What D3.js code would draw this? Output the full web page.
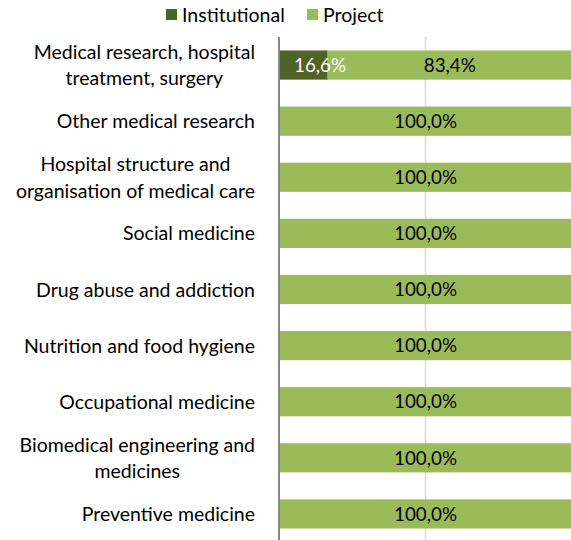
<!DOCTYPE html>
<html>
<head>
<meta charset="utf-8">
<script src="https://cdn.jsdelivr.net/npm/d3@7"></script>
<style>
  body { margin: 0; background: #fff; }
  svg text { font-family: Lato, "Open Sans", sans-serif; }
</style>
</head>
<body>
<div id="chart"></div>
<script>
// categories, top to bottom (line breaks as wrapped in the original)
const categories = [
  ["Medical research, hospital", "treatment, surgery"],
  ["Other medical research"],
  ["Hospital structure and", "organisation of medical care"],
  ["Social medicine"],
  ["Drug abuse and addiction"],
  ["Nutrition and food hygiene"],
  ["Occupational medicine"],
  ["Biomedical engineering and", "medicines"],
  ["Preventive medicine"]
];
const institutional = [16.6, 0, 0, 0, 0, 0, 0, 0, 0];
const project = [83.4, 100, 100, 100, 100, 100, 100, 100, 100];
const seriesNames = ["Institutional", "Project"];
const colors = ["#4f6228", "#9bbb59"];
const gridTicks = [0, 50, 100];

const width = 571, height = 540;
const margin = { top: 37, left: 279 };
const plotW = 293, plotH = 505;

const svg = d3.select('#chart').append('svg')
  .attr('width', width)
  .attr('height', height);

const x = d3.scaleLinear().domain([0, 100]).range([margin.left, margin.left + plotW]);
const y = d3.scaleBand()
  .domain(d3.range(categories.length))
  .range([margin.top, margin.top + plotH])
  .paddingInner(0.48)
  .paddingOuter(0.24);

// gridlines
svg.append('g')
  .selectAll('line')
  .data(gridTicks.slice(1))
  .join('line')
  .attr('x1', d => x(d)).attr('x2', d => x(d))
  .attr('y1', margin.top).attr('y2', margin.top + plotH)
  .attr('stroke', '#d9d9d9')
  .attr('stroke-width', 1.5);

// stacked bars
const rows = categories.map((c, i) => ({ i, inst: institutional[i], proj: project[i] }));

const bars = svg.append('g');
bars.selectAll('rect.inst')
  .data(rows.filter(d => d.inst > 0))
  .join('rect')
  .attr('class', 'inst')
  .attr('x', d => x(0))
  .attr('y', d => y(d.i))
  .attr('width', d => x(d.inst) - x(0))
  .attr('height', y.bandwidth())
  .attr('fill', colors[0]);

bars.selectAll('rect.proj')
  .data(rows)
  .join('rect')
  .attr('class', 'proj')
  .attr('x', d => x(d.inst))
  .attr('y', d => y(d.i))
  .attr('width', d => x(d.inst + d.proj) - x(d.inst))
  .attr('height', y.bandwidth())
  .attr('fill', colors[1]);

const fmt = v => v.toFixed(1).replace('.', ',') + '%';

// data labels
const labels = svg.append('g').attr('font-size', 18.8);
labels.selectAll('text.inst')
  .data(rows.filter(d => d.inst > 0))
  .join('text')
  .attr('x', d => x(0) + 15)
  .attr('y', d => y(d.i) + y.bandwidth() / 2)
  .attr('dy', '0.36em')
  .attr('fill', '#fff')
  .text(d => fmt(d.inst));

labels.selectAll('text.proj')
  .data(rows)
  .join('text')
  .attr('x', d => x(d.inst + d.proj / 2))
  .attr('y', d => y(d.i) + y.bandwidth() / 2)
  .attr('dy', '0.36em')
  .attr('text-anchor', 'middle')
  .attr('fill', '#000')
  .text(d => fmt(d.proj));

// vertical axis line
svg.append('line')
  .attr('x1', x(0)).attr('x2', x(0))
  .attr('y1', margin.top).attr('y2', margin.top + plotH)
  .attr('stroke', '#868686')
  .attr('stroke-width', 2);

// category labels: block right-aligned, lines centered within block
const catG = svg.append('g').attr('font-size', 19.5).attr('fill', '#000');
const labelRight = 255, lineH = 26.5;
categories.forEach((lines, i) => {
  const g = catG.append('g');
  const cy = y(i) + y.bandwidth() / 2;
  const texts = lines.map((ln, k) => g.append('text')
    .attr('y', cy + (k - (lines.length - 1) / 2) * lineH)
    .attr('dy', '0.36em')
    .attr('text-anchor', 'middle')
    .text(ln));
  const maxW = d3.max(texts, t => t.node().getComputedTextLength());
  texts.forEach(t => t.attr('x', labelRight - maxW / 2));
});

// legend
const legend = svg.append('g').attr('font-size', 19.5);
const legendItems = [
  { name: seriesNames[0], color: colors[0], x: 166 },
  { name: seriesNames[1], color: colors[1], x: 307 }
];
legendItems.forEach(it => {
  legend.append('rect')
    .attr('x', it.x).attr('y', 9)
    .attr('width', 11).attr('height', 11)
    .attr('fill', it.color);
  legend.append('text')
    .attr('x', it.x + 16).attr('y', 15)
    .attr('dy', '0.36em')
    .text(it.name);
});
</script>
</body>
</html>
